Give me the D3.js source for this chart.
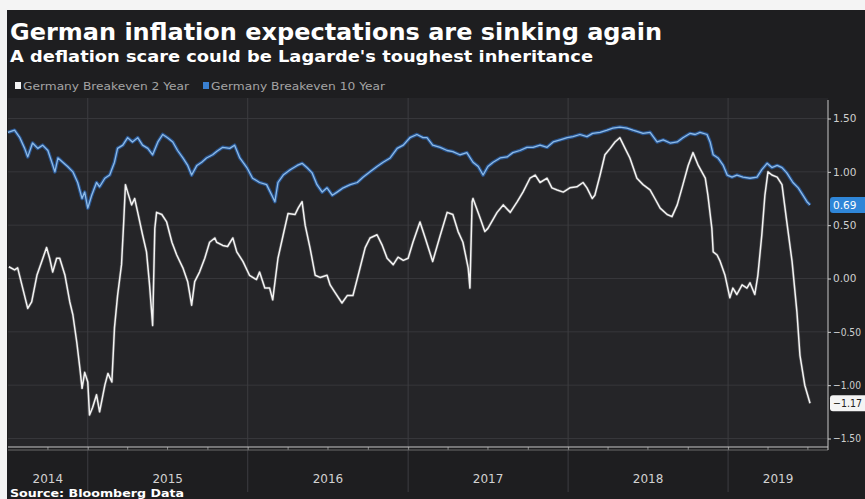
<!DOCTYPE html>
<html>
<head>
  <meta charset="utf-8">
  <title>German inflation expectations are sinking again</title>
  <script src="https://cdn.jsdelivr.net/npm/d3@7"></script>
  <style>
    html, body { margin: 0; padding: 0; background: #fff; }
    svg { display: block; font-family: "DejaVu Sans", sans-serif; }
  </style>
</head>
<body>
<svg id="chart" width="865" height="499"></svg>
<script>
// Germany Breakeven 2 Year (white)
const dates2y = [
  "2014-07-05","2014-07-18","2014-07-25","2014-08-17","2014-08-26","2014-09-07","2014-09-18","2014-09-29",
  "2014-10-06","2014-10-13","2014-10-22","2014-10-29","2014-11-10","2014-11-21","2014-11-28","2014-12-07",
  "2014-12-14","2014-12-19","2014-12-25","2015-01-01","2015-01-05","2015-01-12","2015-01-21","2015-01-28",
  "2015-02-09","2015-02-16","2015-02-25","2015-03-03","2015-03-10","2015-03-19","2015-03-24","2015-03-28",
  "2015-04-02","2015-04-11","2015-04-18","2015-04-25","2015-05-06","2015-05-15","2015-05-22","2015-05-29",
  "2015-06-03","2015-06-07","2015-06-19","2015-06-30","2015-07-12","2015-07-23","2015-08-06","2015-08-17",
  "2015-08-26","2015-09-02","2015-09-13","2015-09-25","2015-10-06","2015-10-18","2015-10-22","2015-11-05",
  "2015-11-16","2015-11-28","2015-12-07","2015-12-21","2016-01-05","2016-01-21","2016-01-28","2016-02-09",
  "2016-02-20","2016-02-27","2016-03-10","2016-03-22","2016-04-02","2016-04-18","2016-04-25","2016-05-04",
  "2016-05-11","2016-05-22","2016-06-03","2016-06-14","2016-06-30","2016-07-07","2016-07-18","2016-08-03",
  "2016-08-15","2016-08-28","2016-09-09","2016-09-25","2016-10-06","2016-10-22","2016-11-03","2016-11-14",
  "2016-11-28","2016-12-09","2016-12-21","2017-01-01","2017-01-12","2017-01-28","2017-02-09","2017-02-26",
  "2017-03-15","2017-03-31","2017-04-13","2017-04-25","2017-05-06","2017-05-18","2017-05-22","2017-05-27",
  "2017-05-29","2017-06-14","2017-06-25","2017-07-02","2017-07-23","2017-08-06","2017-08-22","2017-09-07",
  "2017-09-20","2017-10-06","2017-10-18","2017-10-29","2017-11-14","2017-11-25","2017-12-07","2017-12-21",
  "2018-01-05","2018-01-21","2018-02-04","2018-02-13","2018-02-25","2018-03-03","2018-03-15","2018-03-26",
  "2018-04-07","2018-04-18","2018-04-29","2018-05-11","2018-05-22","2018-06-07","2018-06-21","2018-07-07",
  "2018-07-18","2018-07-30","2018-08-15","2018-08-26","2018-09-07","2018-09-20","2018-10-02","2018-10-13",
  "2018-10-25","2018-11-10","2018-11-16","2018-11-25","2018-11-28","2018-12-07","2018-12-14","2018-12-25",
  "2019-01-05","2019-01-12","2019-01-21","2019-02-02","2019-02-13","2019-02-20","2019-03-03","2019-03-10",
  "2019-03-19","2019-03-26","2019-04-02","2019-04-11","2019-04-23","2019-05-04","2019-05-15","2019-05-27",
  "2019-06-07","2019-06-14","2019-06-25","2019-07-07"
];
const values2y = [
  0.11, 0.08, 0.10, -0.28, -0.22, 0.03, 0.16, 0.29,
  0.19, 0.06, 0.19, 0.19, 0.03, -0.22, -0.34, -0.60,
  -0.84, -1.03, -0.88, -0.97, -1.28, -1.21, -1.09, -1.25,
  -1.00, -0.89, -0.97, -0.46, -0.16, 0.13, 0.53, 0.88,
  0.81, 0.69, 0.75, 0.62, 0.41, 0.25, -0.06, -0.44,
  0.47, 0.62, 0.60, 0.53, 0.34, 0.22, 0.10, -0.03,
  -0.25, -0.03, 0.06, 0.19, 0.34, 0.38, 0.34, 0.31,
  0.30, 0.38, 0.25, 0.16, 0.03, -0.01, 0.06, -0.09,
  -0.09, -0.20, 0.19, 0.41, 0.61, 0.60, 0.66, 0.72,
  0.50, 0.29, 0.03, 0.01, 0.03, -0.06, -0.13, -0.23,
  -0.16, -0.16, 0.03, 0.29, 0.38, 0.41, 0.31, 0.19,
  0.13, 0.20, 0.17, 0.19, 0.34, 0.53, 0.38, 0.16,
  0.40, 0.62, 0.60, 0.44, 0.34, 0.10, -0.09, 0.72,
  0.75, 0.57, 0.44, 0.47, 0.62, 0.69, 0.62, 0.72,
  0.81, 0.94, 0.97, 0.90, 0.94, 0.85, 0.83, 0.81,
  0.85, 0.86, 0.90, 0.85, 0.75, 0.78, 0.97, 1.16,
  1.22, 1.28, 1.32, 1.22, 1.13, 0.94, 0.88, 0.83,
  0.75, 0.66, 0.60, 0.58, 0.69, 0.88, 1.06, 1.18,
  1.06, 0.94, 0.78, 0.47, 0.25, 0.22, 0.16, 0.03,
  -0.18, -0.09, -0.15, -0.06, -0.09, -0.04, -0.15, 0.03,
  0.41, 0.78, 1.00, 0.97, 0.95, 0.88, 0.53, 0.16,
  -0.31, -0.72, -1.00, -1.17
];

// Germany Breakeven 10 Year (blue)
const dates10y = [
  "2014-07-03","2014-07-18","2014-07-30","2014-08-10","2014-08-17","2014-08-28","2014-09-09","2014-09-20",
  "2014-10-02","2014-10-11","2014-10-18","2014-10-25","2014-11-05","2014-11-16","2014-11-28","2014-12-09",
  "2014-12-19","2014-12-25","2015-01-01","2015-01-10","2015-01-21","2015-01-28","2015-02-09","2015-02-20",
  "2015-03-03","2015-03-10","2015-03-22","2015-04-02","2015-04-13","2015-04-25","2015-05-06","2015-05-18",
  "2015-05-29","2015-06-10","2015-06-21","2015-07-02","2015-07-14","2015-07-25","2015-08-06","2015-08-17",
  "2015-08-26","2015-09-07","2015-09-18","2015-09-29","2015-10-13","2015-10-22","2015-11-05","2015-11-21",
  "2015-12-02","2015-12-14","2015-12-30","2016-01-12","2016-01-28","2016-02-13","2016-02-25","2016-03-03",
  "2016-03-10","2016-03-22","2016-04-07","2016-04-23","2016-05-04","2016-05-15","2016-05-27","2016-06-07",
  "2016-06-19","2016-06-30","2016-07-12","2016-07-23","2016-08-06","2016-08-22","2016-09-07","2016-09-20",
  "2016-10-06","2016-10-22","2016-11-05","2016-11-21","2016-12-07","2016-12-21","2017-01-05","2017-01-21",
  "2017-02-04","2017-02-13","2017-02-26","2017-03-15","2017-03-31","2017-04-13","2017-04-29","2017-05-15",
  "2017-05-29","2017-06-10","2017-06-21","2017-07-02","2017-07-14","2017-07-30","2017-08-15","2017-08-28",
  "2017-09-13","2017-09-29","2017-10-13","2017-10-29","2017-11-14","2017-11-28","2017-12-14","2017-12-30",
  "2018-01-12","2018-01-28","2018-02-13","2018-02-26","2018-03-15","2018-03-31","2018-04-13","2018-04-29",
  "2018-05-15","2018-05-29","2018-06-14","2018-06-21","2018-07-07","2018-07-23","2018-08-06","2018-08-22",
  "2018-09-07","2018-09-20","2018-10-06","2018-10-18","2018-10-29","2018-11-14","2018-11-21","2018-11-28",
  "2018-12-09","2018-12-21","2018-12-30","2019-01-10","2019-01-21","2019-02-04","2019-02-20","2019-03-08",
  "2019-03-19","2019-03-31","2019-04-11","2019-04-23","2019-05-04","2019-05-15","2019-05-29","2019-06-10",
  "2019-06-21","2019-06-30","2019-07-07"
];
const values10y = [
  1.37, 1.39, 1.32, 1.22, 1.14, 1.27, 1.22, 1.25,
  1.20, 1.09, 1.00, 1.13, 1.09, 1.05, 1.00, 0.90,
  0.75, 0.81, 0.66, 0.78, 0.90, 0.86, 0.94, 0.97,
  1.09, 1.22, 1.25, 1.32, 1.28, 1.32, 1.25, 1.22,
  1.16, 1.28, 1.35, 1.32, 1.28, 1.20, 1.13, 1.06,
  0.97, 1.06, 1.09, 1.13, 1.16, 1.19, 1.23, 1.22,
  1.25, 1.13, 1.04, 0.94, 0.90, 0.88, 0.78, 0.72,
  0.90, 0.97, 1.02, 1.06, 1.08, 1.04, 0.99, 0.88,
  0.81, 0.85, 0.78, 0.81, 0.85, 0.88, 0.90, 0.95,
  1.00, 1.05, 1.09, 1.13, 1.22, 1.25, 1.32, 1.35,
  1.32, 1.32, 1.25, 1.23, 1.20, 1.19, 1.16, 1.18,
  1.09, 1.05, 0.97, 1.05, 1.09, 1.13, 1.14, 1.18,
  1.20, 1.23, 1.23, 1.25, 1.23, 1.28, 1.30, 1.32,
  1.33, 1.35, 1.33, 1.36, 1.37, 1.39, 1.41, 1.42,
  1.41, 1.39, 1.37, 1.36, 1.37, 1.28, 1.30, 1.27,
  1.28, 1.32, 1.36, 1.35, 1.37, 1.35, 1.28, 1.16,
  1.13, 1.06, 0.97, 0.95, 0.97, 0.95, 0.94, 0.95,
  1.02, 1.08, 1.04, 1.06, 1.04, 0.99, 0.90, 0.85,
  0.78, 0.72, 0.69
];

const yTicks = [1.5, 1.0, 0.5, 0.0, -0.5, -1.0, -1.5];
const years = [2014, 2015, 2016, 2017, 2018, 2019];
const domainStart = "2014-07-03", domainEnd = "2019-08-17";

const title = "German inflation expectations are sinking again";
const subtitle = "A deflation scare could be Lagarde's toughest inheritance";
const legendNames = ["Germany Breakeven 2 Year", "Germany Breakeven 10 Year"];
const source = "Source: Bloomberg Data";

const parse = d3.timeParse("%Y-%m-%d");
const series2y = dates2y.map((d, i) => ({ date: parse(d), v: values2y[i] }));
const series10y = dates10y.map((d, i) => ({ date: parse(d), v: values10y[i] }));

const svg = d3.select("#chart");
const W = 865, H = 499;
const plot = { left: 8, right: 828, top: 98, bottom: 447 };

// outer frame: white strip top and left, dark panel
svg.append("rect").attr("width", W).attr("height", H).attr("fill", "#f4f4f4");
svg.append("rect").attr("x", 7).attr("y", 10).attr("width", W - 7).attr("height", H - 10).attr("fill", "#1e1e20");
svg.append("rect")
  .attr("x", plot.left).attr("y", plot.top)
  .attr("width", plot.right - plot.left).attr("height", plot.bottom - plot.top)
  .attr("fill", "#252528");

const x = d3.scaleTime()
  .domain([parse(domainStart), parse(domainEnd)])
  .range([plot.left, plot.right]);
const y = d3.scaleLinear()
  .domain([-1.5, 1.5])
  .range([438.5, 118.5]);

// horizontal grid
svg.append("g").selectAll("line")
  .data(yTicks)
  .join("line")
    .attr("x1", plot.left).attr("x2", plot.right)
    .attr("y1", d => y(d)).attr("y2", d => y(d))
    .attr("stroke", "#37373b").attr("stroke-width", 1);

// year separators (run down into the label band)
const yearStarts = years.slice(1).map(yr => new Date(yr, 0, 1));
svg.append("g").selectAll("line")
  .data(yearStarts)
  .join("line")
    .attr("x1", d => x(d)).attr("x2", d => x(d))
    .attr("y1", plot.top).attr("y2", 492)
    .attr("stroke", "#3d3d41").attr("stroke-width", 1);

// lines
const line = d3.line().x(d => x(d.date)).y(d => y(d.v));

svg.append("path").datum(series10y)
  .attr("fill", "none").attr("stroke", "#2a66b8").attr("stroke-width", 3.6)
  .attr("stroke-opacity", 0.7).attr("stroke-linejoin", "round").attr("d", line);
svg.append("path").datum(series10y)
  .attr("fill", "none").attr("stroke", "#8dbbe8").attr("stroke-width", 1.3)
  .attr("stroke-linejoin", "round").attr("d", line);

svg.append("path").datum(series2y)
  .attr("fill", "none").attr("stroke", "#9a9a9a").attr("stroke-width", 3)
  .attr("stroke-opacity", 0.35).attr("stroke-linejoin", "round").attr("d", line);
svg.append("path").datum(series2y)
  .attr("fill", "none").attr("stroke", "#f4f4f4").attr("stroke-width", 1.5)
  .attr("stroke-linejoin", "round").attr("d", line);

// x axis
const xAxis = svg.append("g")
  .attr("transform", `translate(0,${plot.bottom})`)
  .call(d3.axisBottom(x).ticks(d3.timeMonth.every(3)).tickFormat("").tickSize(3));
xAxis.select(".domain").remove();
xAxis.selectAll(".tick line").attr("stroke", "#8a8a8a");
svg.append("line").attr("x1", plot.left).attr("x2", plot.right)
  .attr("y1", plot.bottom).attr("y2", plot.bottom).attr("stroke", "#c8c8c8");
svg.append("line").attr("x1", plot.left).attr("x2", plot.right)
  .attr("y1", plot.bottom + 3).attr("y2", plot.bottom + 3).attr("stroke", "#6a6a6a");

const [d0, d1] = x.domain();
svg.append("g").selectAll("text")
  .data(years)
  .join("text")
    .attr("x", yr => {
      const s = d3.max([new Date(yr, 0, 1), d0]);
      const e = d3.min([new Date(yr + 1, 0, 1), d1]);
      return (x(s) + x(e)) / 2;
    })
    .attr("y", 483)
    .attr("text-anchor", "middle")
    .attr("font-size", 12)
    .attr("fill", "#d2d2d2")
    .text(d => d);

// y axis on the right
const yAxis = svg.append("g")
  .attr("transform", `translate(${plot.right},0)`)
  .call(d3.axisRight(y).tickValues(yTicks).tickFormat(d3.format(".2f")).tickSize(3).tickPadding(2));
yAxis.select(".domain").remove();
yAxis.selectAll(".tick line").attr("stroke", "#cfcfcf");
yAxis.selectAll(".tick text").attr("fill", "#cfcfcf").attr("font-size", 10.5)
  .attr("font-family", "DejaVu Sans, sans-serif")
  .attr("textLength", d => d < 0 ? 28 : null)
  .attr("lengthAdjust", "spacingAndGlyphs");
svg.append("line").attr("x1", plot.right).attr("x2", plot.right)
  .attr("y1", 100).attr("y2", plot.bottom + 3).attr("stroke", "#c8c8c8");

// last value badges
const fmt = d3.format(".2f");
const badges = [
  { v: values10y[values10y.length - 1], bg: "#2f86d8", fg: "#ffffff" },
  { v: values2y[values2y.length - 1], bg: "#f4f4f4", fg: "#1e1e20" }
];
badges.forEach(b => {
  svg.append("rect").attr("x", plot.right + 2).attr("y", y(b.v) - 8)
    .attr("width", 40).attr("height", 16).attr("rx", 3).attr("fill", b.bg);
  svg.append("text").attr("x", plot.right + 5).attr("y", y(b.v) + 4)
    .attr("font-size", 10.5).attr("fill", b.fg)
    .attr("textLength", b.v < 0 ? 29 : null).attr("lengthAdjust", "spacingAndGlyphs")
    .text(fmt(b.v));
});

// titles
svg.append("text").attr("x", 10).attr("y", 40)
  .attr("font-size", 23).attr("font-weight", "bold").attr("fill", "#ffffff")
  .attr("textLength", 652).attr("lengthAdjust", "spacingAndGlyphs")
  .text(title);
svg.append("text").attr("x", 10).attr("y", 62)
  .attr("font-size", 15.5).attr("font-weight", "bold").attr("fill", "#ffffff")
  .attr("textLength", 583).attr("lengthAdjust", "spacingAndGlyphs")
  .text(subtitle);

// legend
const legend = [
  { name: legendNames[0], color: "#f4f4f4", x: 15, len: 166 },
  { name: legendNames[1], color: "#3a80d0", x: 203, len: 174 }
];
legend.forEach(l => {
  svg.append("rect").attr("x", l.x).attr("y", 82).attr("width", 6).attr("height", 7).attr("fill", l.color);
  svg.append("text").attr("x", l.x + 8).attr("y", 90)
    .attr("font-size", 10).attr("fill", "#a4a4a4")
    .attr("textLength", l.len).attr("lengthAdjust", "spacingAndGlyphs")
    .text(l.name);
});

// source
svg.append("text").attr("x", 10).attr("y", 497)
  .attr("font-size", 11).attr("font-weight", "bold").attr("fill", "#ffffff")
  .attr("textLength", 174).attr("lengthAdjust", "spacingAndGlyphs")
  .text(source);
</script>
</body>
</html>
